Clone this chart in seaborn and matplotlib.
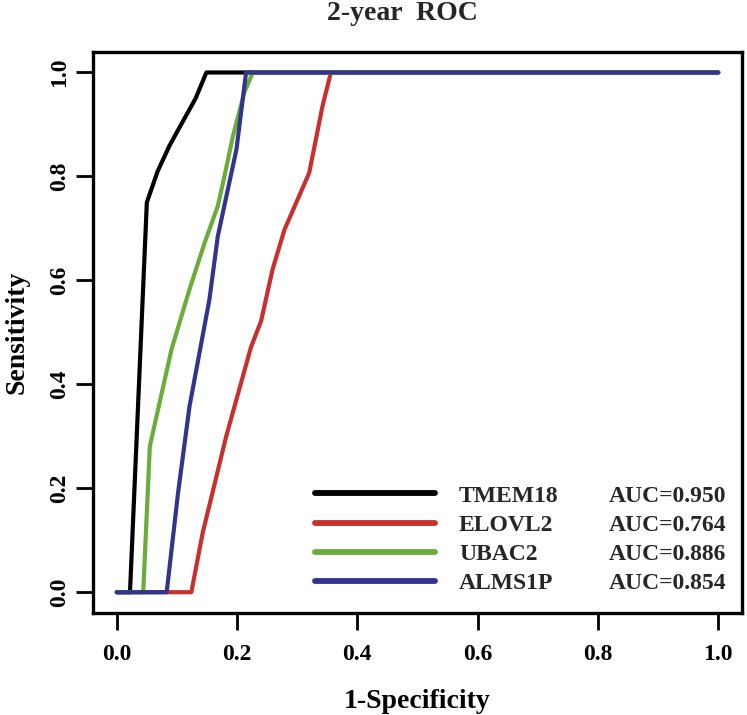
import numpy as np
import pandas as pd
import matplotlib
matplotlib.use('Agg')
import matplotlib.pyplot as plt
from matplotlib.lines import Line2D
import seaborn as sns

# dados
genes = ['TMEM18', 'ELOVL2', 'UBAC2', 'ALMS1P']
auc = ['0.950', '0.764', '0.886', '0.854']
cores = ['#000000', '#C8302E', '#6AAE3A', '#33348E']

fpr_tmem18 = [0.0, 0.022, 0.050, 0.068, 0.088, 0.131, 0.149, 1.0]
tpr_tmem18 = [0.0, 0.0, 0.75, 0.81, 0.86, 0.95, 1.0, 1.0]

fpr_elovl2 = [0.0, 0.124, 0.143, 0.182, 0.223, 0.240, 0.259, 0.279, 0.320, 0.342, 0.356, 1.0]
tpr_elovl2 = [0.0, 0.0, 0.115, 0.30, 0.471, 0.522, 0.621, 0.698, 0.807, 0.935, 1.0, 1.0]

fpr_ubac2 = [0.0, 0.044, 0.055, 0.091, 0.121, 0.146, 0.168, 0.179, 0.193, 0.212, 0.226, 1.0]
tpr_ubac2 = [0.0, 0.0, 0.281, 0.467, 0.583, 0.672, 0.743, 0.80, 0.877, 0.961, 1.0, 1.0]

fpr_alms1p = [0.0, 0.083, 0.102, 0.121, 0.154, 0.168, 0.199, 0.215, 1.0]
tpr_alms1p = [0.0, 0.0, 0.192, 0.358, 0.563, 0.685, 0.852, 1.0, 1.0]

ticks = [0.0, 0.2, 0.4, 0.6, 0.8, 1.0]
tick_labels = ['0.0', '0.2', '0.4', '0.6', '0.8', '1.0']

curvas = [(fpr_tmem18, tpr_tmem18), (fpr_elovl2, tpr_elovl2),
          (fpr_ubac2, tpr_ubac2), (fpr_alms1p, tpr_alms1p)]
df = pd.concat([pd.DataFrame({'fpr': f, 'tpr': t, 'gene': g})
                for g, (f, t) in zip(genes, curvas)], ignore_index=True)

sns.set_theme(style='white')
plt.rcParams['font.family'] = ['Liberation Serif', 'DejaVu Serif']
plt.rcParams['font.weight'] = 'bold'

W, H = 747, 715
fig = plt.figure(figsize=(W / 100, H / 100), dpi=100)
ax = fig.add_axes([92.7 / W, 1 - 613 / H, (742.3 - 92.7) / W, (613 - 51.7) / H])

sns.lineplot(data=df, x='fpr', y='tpr', hue='gene', hue_order=genes,
             palette=cores, sort=False, estimator=None, linewidth=3,
             legend=False, ax=ax)

ax.set_xlim(-0.04, 1.04)
ax.set_ylim(-0.04, 1.04)
ax.set_xticks(ticks, tick_labels)
ax.set_yticks(ticks, tick_labels, rotation=90, va='center')
ax.tick_params(bottom=True, left=True, direction='out', length=12, width=2,
               labelsize=17, colors='black')
ax.tick_params(axis='x', pad=10)
ax.tick_params(axis='y', pad=4)
for s in ax.spines.values():
    s.set_visible(True)
    s.set_linewidth(2.4)
    s.set_color('black')

ax.set_xlabel('1-Specificity', fontsize=20, fontweight='bold', color='black')
ax.set_ylabel('Sensitivity', fontsize=20, fontweight='bold', color='black')
ax.xaxis.set_label_coords(0.5, -0.135)
ax.yaxis.set_label_coords(-0.098, 0.5)

fig.text(402 / W, 1 - 13 / H, '2-year  ROC', ha='center', va='center',
         fontsize=20, fontweight='bold')

# legenda sem moldura
handles = [Line2D([], [], color=c, linewidth=4.2) for c in cores]
leg = ax.legend(handles, genes, loc='upper left',
                bbox_to_anchor=(315 / W, 1 - 485 / H),
                bbox_transform=fig.transFigure, frameon=False, fontsize=17,
                handlelength=5.1, handletextpad=1.0, labelspacing=0.33,
                borderpad=0, borderaxespad=0)

fig.canvas.draw()
for t in leg.get_texts():
    bb = t.get_window_extent()
    fig.text(609 / W, bb.y0 / H, 'AUC=' + auc[genes.index(t.get_text())],
             ha='left', va='bottom', fontsize=17, fontweight='bold')

fig.savefig('out.png', dpi=100, facecolor='white')
plt.close()
